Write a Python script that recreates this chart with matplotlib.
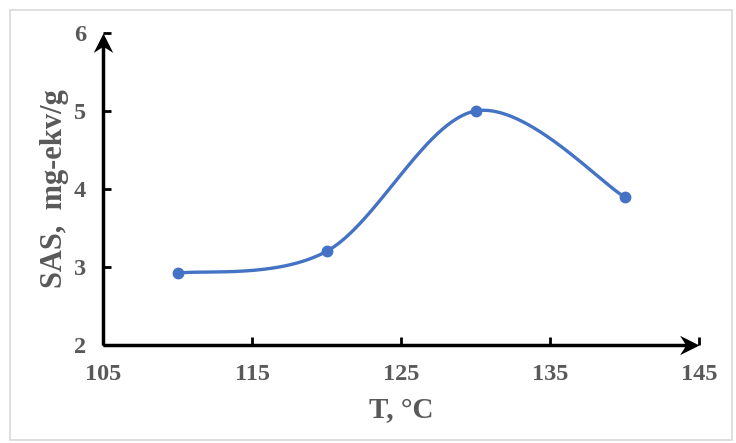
import numpy as np
import matplotlib
matplotlib.use("Agg")
import matplotlib.pyplot as plt
from matplotlib.patches import Rectangle
from matplotlib.path import Path
from matplotlib.markers import MarkerStyle

# Data
temps = [110, 120, 130, 140]
sas = [2.92, 3.2, 5.0, 3.9]
xticks = [105, 115, 125, 135, 145]
yticks = [2, 3, 4, 5, 6]
xlabel = "T, °C"
ylabel = "SAS,  mg-ekv/g"

plt.rcParams['font.family'] = ['Liberation Serif', 'DejaVu Serif']

fig = plt.figure(figsize=(7.36, 4.43), dpi=100)
fig.patches.append(Rectangle((10/736, 3/443), 722/736, 430/443, transform=fig.transFigure,
                             fill=False, edgecolor='#d9d9d9', lw=1.2))
ax = fig.add_axes([103/736, 1 - 345/443, 596/736, 312/443])
ax.set_xlim(105, 145)
ax.set_ylim(2, 6)

# Excel-like smoothing (Bezier with 1/6 tension) in display-proportional space
sx = 596 / 40.0
sy = 312 / 4.0
P = np.column_stack([np.array(temps) * sx, np.array(sas) * sy])
n = len(P)
cx, cy = [], []
t = np.linspace(0, 1, 60)
for i in range(n - 1):
    p0 = P[i - 1] if i > 0 else P[i]
    p1 = P[i]
    p2 = P[i + 1]
    p3 = P[i + 2] if i + 2 < n else P[i + 1]
    c1 = p1 + (p2 - p0) / 6.0
    c2 = p2 - (p3 - p1) / 6.0
    b = ((1 - t) ** 3)[:, None] * p1 + (3 * (1 - t) ** 2 * t)[:, None] * c1 + \
        (3 * (1 - t) * t ** 2)[:, None] * c2 + (t ** 3)[:, None] * p2
    cx.extend(b[:, 0] / sx)
    cy.extend(b[:, 1] / sy)

ax.plot(cx, cy, color='#4472c4', lw=2.4, solid_capstyle='round', zorder=3)
ax.plot(temps, sas, 'o', color='#4472c4', ms=7.5, zorder=4)

for s in ax.spines.values():
    s.set_visible(False)

# Axis lines with stealth arrowheads
def stealth(angle):
    verts = [(0, 0), (-1, 0.5), (-0.68, 0), (-1, -0.5), (0, 0)]
    codes = [Path.MOVETO, Path.LINETO, Path.LINETO, Path.LINETO, Path.CLOSEPOLY]
    m = MarkerStyle(Path(verts, codes))
    return MarkerStyle(Path(verts, codes), transform=matplotlib.transforms.Affine2D().rotate_deg(angle))

ax.plot([0, 0.99], [0, 0], transform=ax.transAxes, color='black', lw=2.5,
        solid_capstyle='butt', clip_on=False, zorder=5)
ax.plot([0, 0], [0, 0.98], transform=ax.transAxes, color='black', lw=2.5,
        solid_capstyle='butt', clip_on=False, zorder=5)
ax.plot([1], [0], transform=ax.transAxes, marker=stealth(0), ms=28, color='black',
        mew=0, clip_on=False, zorder=6)
ax.plot([0], [1], transform=ax.transAxes, marker=stealth(90), ms=28, color='black',
        mew=0, clip_on=False, zorder=6)

ax.set_xticks(xticks)
ax.set_yticks(yticks)
ax.set_xticklabels([str(v) for v in xticks])
ax.set_yticklabels([str(v) for v in yticks])
ax.tick_params(direction='in', length=6, width=2, color='black',
               labelsize=17.5, labelcolor='#595959')
ax.tick_params(axis='x', pad=14)
ax.tick_params(axis='y', pad=12)
for lab in ax.get_xticklabels() + ax.get_yticklabels():
    lab.set_fontweight('bold')

ax.set_xlabel(xlabel, fontsize=21, fontweight='bold', color='#595959', labelpad=8)
ax.set_ylabel(ylabel, fontsize=22, fontweight='bold', color='#595959', labelpad=4)

fig.savefig('out.png', dpi=100)
